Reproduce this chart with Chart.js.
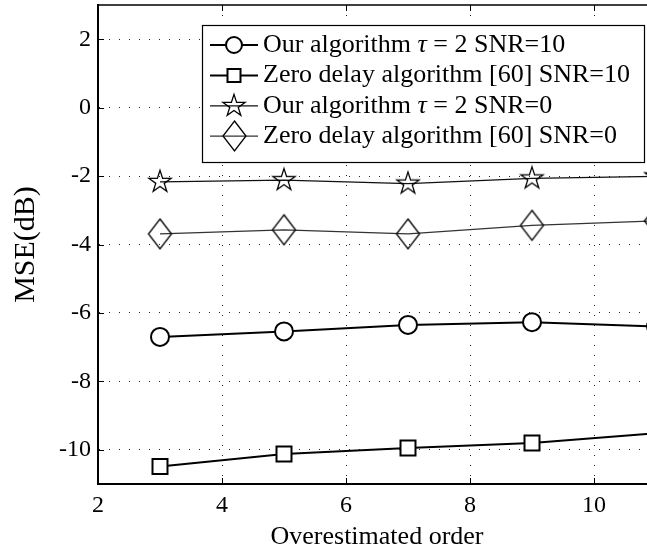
<!DOCTYPE html>
<html>
<head>
<meta charset="utf-8">
<script src="https://cdn.jsdelivr.net/npm/chart.js@4.4.1/dist/chart.umd.min.js"></script>
<style>
  html, body { margin: 0; padding: 0; background: #fff; overflow: hidden; }
  #wrap { width: 647px; height: 554px; overflow: hidden; }
</style>
</head>
<body>
<div id="wrap"><canvas id="mse" width="680" height="554"></canvas></div>
<script>
/* ---------- data ---------- */
const orders = [3, 5, 7, 9, 11];
const oursSnr10 = [-6.70, -6.54, -6.35, -6.27, -6.40];
const zeroSnr10 = [-10.49, -10.12, -9.95, -9.80, -9.52];
const oursSnr0 = [-2.17, -2.12, -2.22, -2.07, -2.01];
const zeroSnr0 = [-3.69, -3.57, -3.69, -3.44, -3.31];
const xTicks = [2, 4, 6, 8, 10];
const yTicks = [-10, -8, -6, -4, -2, 0, 2];
const seriesLabels = [
  'Our algorithm τ = 2 SNR=10',
  'Zero delay algorithm [60] SNR=10',
  'Our algorithm τ = 2 SNR=0',
  'Zero delay algorithm [60] SNR=0'
];

const FONT = '"Liberation Serif", "Times New Roman", serif';
Chart.defaults.font.family = FONT;
Chart.defaults.color = '#000';

/* ---------- custom markers (matlab pentagram / diamond) ---------- */
function starMarker(R) {
  const size = Math.ceil(2 * R + 4);
  const c = document.createElement('canvas');
  c.width = c.height = size;
  const g = c.getContext('2d');
  const cx = size / 2, cy = size / 2, r = R * 0.382;
  g.beginPath();
  for (let i = 0; i < 10; i++) {
    const rad = i % 2 ? r : R;
    const a = -Math.PI / 2 + i * Math.PI / 5;
    g.lineTo(cx + rad * Math.cos(a), cy + rad * Math.sin(a));
  }
  g.closePath();
  g.lineWidth = 1.3;
  g.strokeStyle = '#000';
  g.stroke();
  return c;
}

function diamondMarker(hw, hh) {
  const c = document.createElement('canvas');
  c.width = Math.ceil(2 * hw + 4);
  c.height = Math.ceil(2 * hh + 4);
  const g = c.getContext('2d');
  const cx = c.width / 2, cy = c.height / 2;
  g.beginPath();
  g.moveTo(cx, cy - hh);
  g.lineTo(cx + hw, cy);
  g.lineTo(cx, cy + hh);
  g.lineTo(cx - hw, cy);
  g.closePath();
  g.lineWidth = 1.3;
  g.strokeStyle = '#000';
  g.stroke();
  return c;
}

const starImg = starMarker(11.6);
const diamondImg = diamondMarker(11.5, 15);

const pts = ys => orders.map((x, i) => ({ x, y: ys[i] }));

/* ---------- frame: top border + inward ticks ---------- */
const framePlugin = {
  id: 'frame',
  afterDraw(chart) {
    const { ctx, chartArea: a, scales } = chart;
    ctx.save();
    ctx.strokeStyle = '#000';
    ctx.lineWidth = 1.5;
    ctx.beginPath();
    ctx.moveTo(a.left, a.top);
    ctx.lineTo(a.right, a.top);
    ctx.lineTo(a.right, a.bottom);
    ctx.stroke();
    ctx.lineWidth = 1;
    ctx.beginPath();
    xTicks.forEach(v => {
      const px = Math.round(scales.x.getPixelForValue(v)) + 0.5;
      ctx.moveTo(px, a.bottom); ctx.lineTo(px, a.bottom - 6);
      ctx.moveTo(px, a.top); ctx.lineTo(px, a.top + 6);
    });
    yTicks.forEach(v => {
      const py = Math.round(scales.y.getPixelForValue(v)) + 0.5;
      ctx.moveTo(a.left, py); ctx.lineTo(a.left + 6, py);
      ctx.moveTo(a.right, py); ctx.lineTo(a.right - 6, py);
    });
    ctx.stroke();
    ctx.restore();
  }
};

/* ---------- legend box, matlab style ---------- */
function drawLabel(ctx, text, x, y) {
  const parts = text.split('τ');
  let cx = x;
  parts.forEach((p, i) => {
    ctx.font = '26px ' + FONT;
    ctx.fillText(p, cx, y);
    cx += ctx.measureText(p).width;
    if (i < parts.length - 1) {
      ctx.font = 'italic 26px ' + FONT;
      ctx.fillText('τ', cx, y);
      cx += ctx.measureText('τ').width;
    }
  });
}

const legendPlugin = {
  id: 'legendBox',
  afterDraw(chart) {
    const { ctx, chartArea: a } = chart;
    const box = { left: 202, top: 25, right: a.right - 12, bottom: 162 };
    ctx.save();
    ctx.fillStyle = '#fff';
    ctx.fillRect(box.left, box.top, box.right - box.left, box.bottom - box.top);
    ctx.strokeStyle = '#000';
    ctx.lineWidth = 1.2;
    ctx.strokeRect(box.left + 0.5, box.top + 0.5, box.right - box.left, box.bottom - box.top);

    chart.data.datasets.forEach((ds, i) => {
      const base = 52 + i * 30.4;
      const my = base - 7;
      ctx.strokeStyle = ds.borderColor;
      ctx.lineWidth = ds.borderWidth;
      ctx.beginPath();
      ctx.moveTo(box.left + 8, my);
      ctx.lineTo(box.left + 56, my);
      ctx.stroke();
      const mx = box.left + 32;
      if (ds.pointStyle instanceof HTMLCanvasElement) {
        const im = ds.pointStyle;
        ctx.drawImage(im, Math.round(mx - im.width / 2), Math.round(my - im.height / 2));
      } else {
        ctx.fillStyle = '#fff';
        ctx.strokeStyle = '#000';
        ctx.lineWidth = ds.pointBorderWidth;
        ctx.beginPath();
        if (ds.pointStyle === 'circle') ctx.arc(mx, my, 8, 0, Math.PI * 2);
        else ctx.rect(mx - 6.5, my - 6.5, 13, 13);
        ctx.fill();
        ctx.stroke();
      }
      ctx.fillStyle = '#000';
      ctx.textBaseline = 'alphabetic';
      ctx.textAlign = 'left';
      drawLabel(ctx, ds.label, box.left + 61, base);
    });
    ctx.restore();
  }
};

// drop the label half-height padding so the plot box fills the frame
function noPad(s) { s.paddingTop = 0; s.paddingBottom = 0; s.paddingLeft = 0; s.paddingRight = 0; }

new Chart(document.getElementById('mse'), {
  type: 'line',
  data: {
    datasets: [
      {
        label: seriesLabels[0], data: pts(oursSnr10),
        borderColor: '#000', borderWidth: 2,
        pointStyle: 'circle', pointRadius: 9, pointBorderWidth: 2,
        pointBackgroundColor: '#fff', pointBorderColor: '#000'
      },
      {
        label: seriesLabels[1], data: pts(zeroSnr10),
        borderColor: '#000', borderWidth: 2,
        pointStyle: 'rect', pointRadius: 10.6, pointBorderWidth: 2,
        pointBackgroundColor: '#fff', pointBorderColor: '#000'
      },
      {
        label: seriesLabels[2], data: pts(oursSnr0),
        borderColor: '#111', borderWidth: 1.2,
        pointStyle: starImg, pointRadius: 12, pointBorderWidth: 1
      },
      {
        label: seriesLabels[3], data: pts(zeroSnr0),
        borderColor: '#333', borderWidth: 1.2,
        pointStyle: diamondImg, pointRadius: 12, pointBorderWidth: 1
      }
    ]
  },
  options: {
    responsive: false,
    animation: false,
    layout: { autoPadding: false, padding: { top: 5, right: 24, left: 0, bottom: 0 } },
    elements: { line: { tension: 0 } },
    plugins: { legend: { display: false }, tooltip: { enabled: false } },
    scales: {
      x: {
        type: 'linear', min: 2, max: 11,
        afterBuildTicks: s => { s.ticks = xTicks.map(v => ({ value: v })); },
        afterFit: s => { s.height = 70; noPad(s); },
        grid: { color: '#222', lineWidth: 1, drawTicks: false },
        border: { display: true, color: '#000', width: 2, dash: [1, 9] },
        ticks: { font: { size: 24 }, padding: 7, maxRotation: 0 },
        title: { display: true, text: 'Overestimated order', font: { size: 26 }, padding: { top: 0, bottom: 1 } }
      },
      y: {
        type: 'linear', min: -11, max: 3,
        afterBuildTicks: s => { s.ticks = yTicks.map(v => ({ value: v })); },
        afterFit: s => { s.width = 98; noPad(s); },
        grid: { color: '#222', lineWidth: 1, drawTicks: false },
        border: { display: true, color: '#000', width: 2, dash: [1, 9] },
        ticks: { font: { size: 24 }, padding: 7 },
        title: { display: true, text: 'MSE(dB)', font: { size: 30 }, padding: { top: 8, bottom: 0 } }
      }
    }
  },
  plugins: [framePlugin, legendPlugin]
});
</script>
</body>
</html>
